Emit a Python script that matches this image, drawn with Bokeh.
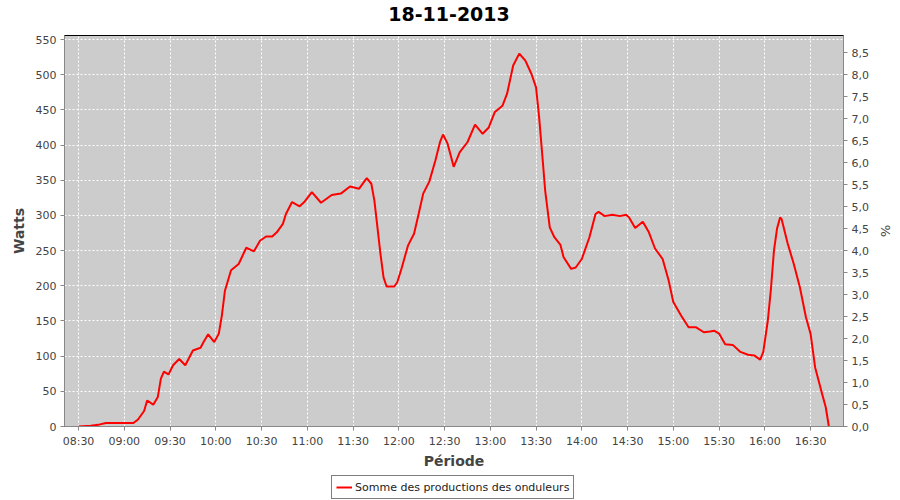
from bokeh.plotting import figure
from bokeh.layouts import column
from bokeh.models import Range1d, LinearAxis, FixedTicker, Legend, LegendItem, Label
from bokeh.embed import file_html
from bokeh.resources import INLINE

# ---- data ----
times = ["08:30", "08:38", "08:44", "08:48", "09:00", "09:06", "09:09", "09:13", "09:15",
         "09:19", "09:22", "09:24", "09:26", "09:29", "09:32", "09:36", "09:40", "09:45",
         "09:50", "09:52", "09:55", "09:59", "10:02", "10:04", "10:06", "10:10", "10:15",
         "10:20", "10:25", "10:29", "10:33", "10:37", "10:40", "10:44", "10:46", "10:50",
         "10:55", "10:58", "11:03", "11:09", "11:16", "11:22", "11:28", "11:34", "11:39",
         "11:42", "11:44", "11:46", "11:48", "11:50", "11:52", "11:57", "11:59", "12:02",
         "12:06", "12:10", "12:13", "12:16", "12:20", "12:24", "12:27", "12:29", "12:32",
         "12:36", "12:40", "12:45", "12:50", "12:55", "12:59", "13:03", "13:08", "13:11",
         "13:15", "13:19", "13:23", "13:27", "13:30", "13:32", "13:34", "13:36", "13:39",
         "13:42", "13:46", "13:48", "13:53", "13:56", "14:00", "14:05", "14:09", "14:11",
         "14:15", "14:20", "14:25", "14:29", "14:31", "14:35", "14:40", "14:44", "14:48",
         "14:53", "14:57", "15:00", "15:05", "15:10", "15:15", "15:20", "15:24", "15:27",
         "15:30", "15:34", "15:39", "15:44", "15:49", "15:53", "15:57", "15:59", "16:02",
         "16:04", "16:06", "16:08", "16:10", "16:11", "16:15", "16:19", "16:23", "16:27",
         "16:30", "16:33", "16:37", "16:40", "16:42"]
watts = [0, 1, 3, 5, 5, 5, 10, 22, 37,
         31, 42, 68, 78, 74, 87, 96, 87, 108,
         112, 120, 131, 120, 132, 158, 193, 222, 231,
         254, 249, 264, 270, 270, 276, 288, 302, 319,
         313, 319, 333, 318, 329, 331, 341, 338, 353,
         345, 321, 283, 245, 212, 199, 199, 205, 226,
         257, 274, 302, 331, 348, 378, 404, 415, 402,
         369, 390, 404, 429, 416, 425, 447, 456, 473,
         513, 530, 520, 501, 482, 440, 388, 335, 283,
         269, 258, 241, 224, 226, 238, 269, 302, 305,
         299, 301, 299, 301, 297, 282, 291, 276, 253,
         238, 207, 177, 158, 141, 141, 134, 135, 136,
         132, 117, 116, 106, 102, 101, 95, 106, 151,
         195, 250, 281, 297, 295, 260, 231, 198, 155,
         132, 84, 51, 27, 0]

x_tick_labels = ["08:30", "09:00", "09:30", "10:00", "10:30", "11:00", "11:30", "12:00",
                 "12:30", "13:00", "13:30", "14:00", "14:30", "15:00", "15:30", "16:00", "16:30"]
watt_ticks = [0, 50, 100, 150, 200, 250, 300, 350, 400, 450, 500, 550]
pct_ticks = [0.0, 0.5, 1.0, 1.5, 2.0, 2.5, 3.0, 3.5, 4.0, 4.5, 5.0, 5.5, 6.0, 6.5, 7.0, 7.5, 8.0, 8.5]
pct_labels = ["0,0", "0,5", "1,0", "1,5", "2,0", "2,5", "3,0", "3,5", "4,0", "4,5",
              "5,0", "5,5", "6,0", "6,5", "7,0", "7,5", "8,0", "8,5"]
title_text = "18-11-2013"
series_name = "Somme des productions des onduleurs"


def to_min(s):
    h, m = s.split(":")
    return int(h) * 60 + int(m)


xs = [to_min(t) for t in times]
x_ticks = [to_min(t) for t in x_tick_labels]

FONT = "DejaVu Sans"
GRAY = "#444444"
LINE_COLOR = "red"


def strip(height):
    f = figure(width=892, height=height, output_backend="svg", toolbar_location=None,
               x_range=Range1d(0, 1), y_range=Range1d(0, 1), title=None,
               min_border_left=0, min_border_right=0, min_border_top=0, min_border_bottom=0)
    f.axis.visible = False
    f.grid.visible = False
    f.outline_line_color = None
    f.background_fill_color = "white"
    f.border_fill_color = "white"
    return f


# title strip
hd = strip(35)
hd.add_layout(Label(x=0.4955, y=0.62, text=title_text, text_align="center",
                    text_baseline="middle", text_font=FONT, text_font_size="19px",
                    text_font_style="bold", text_color="black"))

# main chart
p = figure(frame_width=779, frame_height=391, output_backend="svg", toolbar_location=None,
           x_range=Range1d(500.8, 1011.6), y_range=Range1d(0, 555.7), title=None,
           min_border_left=64, min_border_right=49, min_border_top=0, min_border_bottom=46)

p.border_fill_color = "#ffffff"
p.outline_line_color = "black"
p.outline_line_width = 1
p.background_fill_color = "#cccccc"

xa = p.xaxis[0]
xa.ticker = FixedTicker(ticks=x_ticks)
xa.major_label_overrides = {t: l for t, l in zip(x_ticks, x_tick_labels)}
xa.axis_label = "Période"

ya = p.yaxis[0]
ya.ticker = FixedTicker(ticks=watt_ticks)
ya.axis_label = "Watts"

p.extra_y_ranges = {"pct": Range1d(0, 8.89)}
ra = LinearAxis(y_range_name="pct", ticker=FixedTicker(ticks=pct_ticks),
                major_label_overrides={t: l for t, l in zip(pct_ticks, pct_labels)},
                axis_label="%")
p.add_layout(ra, "right")

for ax in [xa, ya, ra]:
    ax.axis_line_color = "#888888"
    ax.major_tick_line_color = "#888888"
    ax.major_tick_out = 4
    ax.major_tick_in = 0
    ax.minor_tick_line_color = None
    ax.major_label_text_font = FONT
    ax.major_label_text_font_size = "11px"
    ax.major_label_text_color = GRAY
    ax.axis_label_text_font = FONT
    ax.axis_label_text_font_size = "14px"
    ax.axis_label_text_font_style = "bold"
    ax.axis_label_text_color = GRAY
    ax.axis_label_standoff = 6
    ax.major_label_standoff = 4
ra.axis_label_text_font_style = "normal"
ra.axis_label_text_font_size = "13px"
xa.axis_label_standoff = 2

p.xgrid.ticker = FixedTicker(ticks=x_ticks)
p.ygrid.ticker = FixedTicker(ticks=watt_ticks)
for g in [p.xgrid[0], p.ygrid[0]]:
    g.grid_line_color = "white"
    g.grid_line_dash = "2 2"
    g.grid_line_width = 1

p.line(xs, watts, line_color=LINE_COLOR, line_width=2)

# legend strip
lg = strip(28)
proxy = lg.line(xs, watts, line_color=LINE_COLOR, line_width=2)  # lies outside this strip's view
legend = Legend(items=[LegendItem(label=series_name, renderers=[proxy])],
                location=(267, 1), orientation="horizontal",
                border_line_color="black", border_line_width=1,
                label_text_font=FONT, label_text_font_size="11px", label_text_color="#222222",
                glyph_width=16, glyph_height=12, padding=4, margin=0, spacing=4,
                label_standoff=3, label_height=14, background_fill_color="white")
lg.add_layout(legend, "center")

layout = column(hd, p, lg, spacing=0)
open("out.html", "w").write(file_html(layout, INLINE))
